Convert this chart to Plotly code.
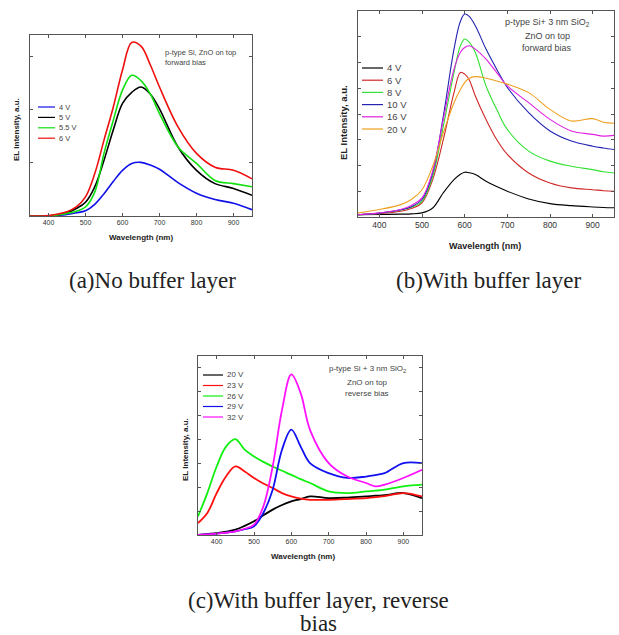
import plotly.graph_objects as go

W, H = 619, 635

# ---------------- data: panel (a) no buffer layer ----------------
wl_a = [350, 400, 450, 475, 500, 525, 550, 575, 600, 625, 650, 675, 700, 750, 800, 850, 900, 950]
a_4V = [0.0, 0.0, 0.03, 0.06, 0.10, 0.22, 0.42, 0.65, 0.86, 0.99, 1.01, 0.96, 0.88, 0.63, 0.43, 0.31, 0.24, 0.12]
a_5V = [0.0, 0.0, 0.06, 0.14, 0.26, 0.55, 1.05, 1.62, 2.12, 2.33, 2.43, 2.30, 2.02, 1.30, 0.86, 0.61, 0.52, 0.39]
a_55V = [0.0, 0.0, 0.05, 0.09, 0.17, 0.45, 1.18, 1.80, 2.37, 2.65, 2.55, 2.30, 1.93, 1.30, 0.99, 0.67, 0.61, 0.55]
a_6V = [0.0, 0.01, 0.08, 0.17, 0.36, 0.80, 1.43, 2.05, 2.75, 3.27, 3.20, 2.85, 2.43, 1.68, 1.18, 0.92, 0.86, 0.70]

# ---------------- data: panel (b) with buffer layer ----------------
wl_b = [350, 400, 450, 475, 500, 525, 550, 575, 590, 600, 610, 625, 650, 675, 700, 750, 800, 850, 900, 925, 950]
b_4V = [0.09, 0.10, 0.11, 0.12, 0.16, 0.35, 0.94, 1.45, 1.66, 1.74, 1.72, 1.65, 1.39, 1.18, 1.00, 0.70, 0.52, 0.44, 0.39, 0.37, 0.36]
b_6V = [0.09, 0.13, 0.22, 0.33, 0.55, 1.45, 3.01, 4.83, 5.61, 5.55, 5.35, 4.70, 3.79, 3.01, 2.43, 1.71, 1.32, 1.13, 1.06, 1.02, 1.00]
b_8V = [0.09, 0.15, 0.27, 0.38, 0.61, 1.58, 3.53, 5.61, 6.65, 6.91, 6.80, 6.39, 5.09, 4.18, 3.40, 2.56, 2.17, 1.97, 1.84, 1.76, 1.71]
b_10V = [0.09, 0.15, 0.28, 0.40, 0.68, 1.71, 3.92, 6.52, 7.60, 7.88, 7.80, 7.43, 6.52, 5.74, 5.03, 4.05, 3.34, 2.95, 2.75, 2.68, 2.62]
b_16V = [0.09, 0.16, 0.29, 0.45, 0.74, 1.78, 3.79, 5.74, 6.40, 6.58, 6.65, 6.52, 6.13, 5.61, 5.09, 4.44, 3.79, 3.34, 3.21, 3.14, 3.17]
b_20V = [0.16, 0.29, 0.48, 0.68, 1.06, 1.97, 3.27, 4.44, 4.95, 5.22, 5.38, 5.45, 5.39, 5.28, 5.16, 4.83, 4.18, 3.73, 3.82, 3.68, 3.64]

# ---------------- data: panel (c) reverse bias ----------------
wl_c = [350, 375, 400, 425, 450, 475, 500, 525, 550, 575, 600, 625, 650, 700, 750, 800, 825, 850, 900, 950]
c_20V = [0.0, 0.04, 0.08, 0.14, 0.22, 0.38, 0.57, 0.82, 1.06, 1.25, 1.40, 1.50, 1.61, 1.54, 1.56, 1.61, 1.64, 1.66, 1.75, 1.54]
c_23V = [0.50, 0.92, 1.75, 2.44, 2.86, 2.65, 2.38, 2.15, 1.96, 1.75, 1.61, 1.52, 1.47, 1.47, 1.50, 1.54, 1.58, 1.62, 1.75, 1.61]
c_26V = [0.78, 1.75, 2.86, 3.69, 4.00, 3.56, 3.28, 3.05, 2.86, 2.68, 2.51, 2.33, 2.17, 1.82, 1.75, 1.82, 1.85, 1.89, 2.03, 2.10]
c_29V = [0.0, 0.03, 0.06, 0.10, 0.15, 0.24, 0.36, 0.92, 1.89, 3.56, 4.40, 3.69, 3.00, 2.58, 2.38, 2.44, 2.50, 2.58, 3.00, 3.00]
c_32V = [0.0, 0.03, 0.06, 0.10, 0.15, 0.26, 0.43, 1.19, 2.86, 5.22, 6.70, 5.92, 4.39, 3.00, 2.44, 2.17, 2.03, 2.10, 2.38, 2.72]

x_ticks = [400, 500, 600, 700, 800, 900]

series_a = [("4 V", a_4V, "#1010e8"), ("5 V", a_5V, "#000000"),
            ("5.5 V", a_55V, "#10e010"), ("6 V", a_6V, "#ee1010")]
series_b = [("4 V", b_4V, "#000000"), ("6 V", b_6V, "#d02828"), ("8 V", b_8V, "#33e033"),
            ("10 V", b_10V, "#2323b0"), ("16 V", b_16V, "#e020e0"), ("20 V", b_20V, "#eea020")]
series_c = [("20 V", c_20V, "#000000"), ("23 V", c_23V, "#ff1010"), ("26 V", c_26V, "#10f010"),
            ("29 V", c_29V, "#1010f0"), ("32 V", c_32V, "#ff10ff")]


def px(x):
    return x / W


def py(y):
    return 1 - y / H


fig = go.Figure()

for name, vals, col in series_a:
    fig.add_trace(go.Scatter(x=wl_a, y=vals, mode="lines", name=name, line=dict(color=col, width=1.6, shape="spline"),
                             xaxis="x", yaxis="y", showlegend=False))
for name, vals, col in series_b:
    fig.add_trace(go.Scatter(x=wl_b, y=vals, mode="lines", name=name, line=dict(color=col, width=1.1, shape="spline"),
                             xaxis="x2", yaxis="y2", showlegend=False))
for name, vals, col in series_c:
    fig.add_trace(go.Scatter(x=wl_c, y=vals, mode="lines", name=name, line=dict(color=col, width=1.8, shape="spline"),
                             xaxis="x3", yaxis="y3", showlegend=False))

axcol = "#555555"


def xax(dom, anchor, fs):
    return dict(domain=dom, anchor=anchor, range=[350, 950], tickvals=x_ticks, ticks="inside", ticklen=3,
                tickcolor=axcol, showline=True, linecolor=axcol, linewidth=1, mirror="ticks", showgrid=False,
                zeroline=False, tickfont=dict(family="Liberation Sans", size=fs, color="#333333"))


def yax(dom, anchor, top):
    return dict(domain=dom, anchor=anchor, range=[0, top], dtick=1, tick0=0, ticks="inside", ticklen=3,
                tickcolor=axcol, showline=True, linecolor=axcol, linewidth=1, mirror="ticks", showgrid=False,
                zeroline=False, showticklabels=False)


fig.update_layout(
    width=W, height=H, margin=dict(l=0, r=0, t=0, b=0),
    paper_bgcolor="white", plot_bgcolor="white",
    xaxis=xax([px(30), px(252)], "y", 7),
    yaxis=yax([py(216), py(35)], "x", 3.41),
    xaxis2=xax([px(358), px(614)], "y2", 8.5),
    yaxis2=yax([py(217), py(11)], "x2", 8.0),
    xaxis3=xax([px(198), px(422)], "y3", 7),
    yaxis3=yax([py(535), py(356)], "x3", 7.47),
)

ann = []
shapes = []


def text(x, y, s, size, bold=False, angle=0, xanchor="center", family="Liberation Sans", color="#222222"):
    ann.append(dict(x=px(x), y=py(y), xref="paper", yref="paper", text=("<b>%s</b>" % s) if bold else s,
                    showarrow=False, xanchor=xanchor, yanchor="middle", textangle=angle,
                    font=dict(family=family, size=size, color=color)))


# axis titles
text(141, 237, "Wavelength (nm)", 8, bold=True)
text(17, 130, "EL Intensity, a.u.", 8, bold=True, angle=-90)
text(485, 246, "Wavelength (nm)", 9, bold=True)
text(343, 123, "EL Intensity, a.u.", 9.5, bold=True, angle=-90)
text(303, 556, "Wavelength (nm)", 8, bold=True)
text(185, 450, "EL Intensity, a.u.", 8, bold=True, angle=-90)

# in-plot notes
text(163, 53, "p-type Si, ZnO on top", 7.5, xanchor="left", color="#444444")
text(163, 63, "forward bias", 7.5, xanchor="left", color="#444444")
text(547, 23, "p-type Si+ 3 nm SiO<sub>2</sub>", 9, color="#444444")
text(547, 36, "ZnO on top", 9, color="#444444")
text(547, 48, "forward bias", 9, color="#444444")
text(367, 369, "p-type Si + 3 nm SiO<sub>2</sub>", 8, color="#444444")
text(367, 382, "ZnO on top", 8, color="#444444")
text(367, 393, "reverse bias", 8, color="#444444")


# legends (drawn keys)
def legend(items, x0, x1, y0, dy, size, lw):
    for i, (name, vals, col) in enumerate(items):
        y = y0 + i * dy
        shapes.append(dict(type="line", xref="paper", yref="paper", x0=px(x0), x1=px(x1), y0=py(y), y1=py(y),
                           line=dict(color=col, width=lw)))
        text(x1 + 2, y, name, size, xanchor="left", color="#444444")


legend(series_a, 38, 55, 107, 10.4, 7.5, 1.2)
legend(series_b, 362, 383, 68, 12.2, 9.5, 1.2)
legend(series_c, 203, 223, 375, 10.5, 8, 1.2)

# captions
cap = dict(family="Liberation Serif", size=23, color="#222222")
for (x, y, s) in [(152, 280, "(a)No buffer layer"), (488, 280, "(b)With buffer layer"),
                  (318, 600, "(c)With buffer layer, reverse"), (318, 623, "bias")]:
    ann.append(dict(x=px(x), y=py(y), xref="paper", yref="paper", text=s, showarrow=False,
                    xanchor="center", yanchor="middle", font=cap))

fig.update_layout(annotations=ann, shapes=shapes)
fig.write_html("out.html", config={"displayModeBar": False},
               post_script="document.body.style.margin='0';document.body.style.overflow='hidden';")
